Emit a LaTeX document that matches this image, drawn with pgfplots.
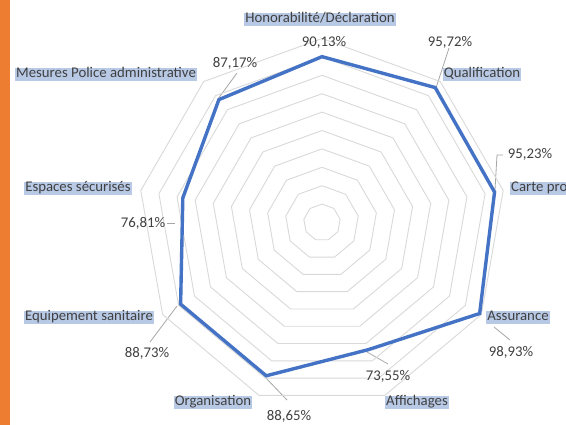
\documentclass[border=0pt]{standalone}
\usepackage{fontspec}
\setmainfont{Carlito}
\usepackage{pgfplots}
\pgfplotsset{compat=1.18}
\usepgfplotslibrary{polar}
\definecolor{xlblue}{HTML}{4472C4}
\definecolor{xlorange}{HTML}{ED7D31}
\definecolor{hl}{HTML}{B8C9E6}
\definecolor{ring}{HTML}{D9D9D9}
\definecolor{txt}{HTML}{404040}
\definecolor{leadgray}{HTML}{A6A6A6}

\begin{document}
\begin{tikzpicture}[
    cat/.style={fill=hl, text=txt, inner xsep=1pt, inner ysep=1.8pt,
        text height=0.72em, text depth=0.22em, font=\fontsize{14.8}{16}\selectfont},
    val/.style={text=txt, inner sep=1pt, font=\fontsize{14.8}{16}\selectfont},
    leader/.style={leadgray, line width=0.8pt},
]
\path[use as bounding box] (0pt,0pt) rectangle (566pt,-425pt);
\fill[white] (0pt,0pt) rectangle (566pt,-425pt);
\fill[xlorange] (0pt,0pt) rectangle (10pt,-425pt);

% leader lines
\draw[leader] (449pt,-48pt) -- (436pt,-88pt);
\draw[leader] (503pt,-155pt) -- (497pt,-155pt) -- (495pt,-190pt);
\draw[leader] (494pt,-327pt) -- (510pt,-340pt);
\draw[leader] (367pt,-352pt) -- (388pt,-364pt);
\draw[leader] (266pt,-378pt) -- (287pt,-400pt);
\draw[leader] (177pt,-306pt) -- (150pt,-342pt);
\draw[leader] (167pt,-223pt) -- (175pt,-223pt);
\draw[leader] (237pt,-73pt) -- (218pt,-99pt);

\begin{polaraxis}[
    at={(322pt,-222.5pt)}, anchor=center,
    scale only axis, width=368pt, height=368pt,
    xmin=0, xmax=360, ymin=0, ymax=100,
    hide axis, clip=false,
]
\pgfplotsinvokeforeach{10,20,...,100}{
    \addplot[ring, line width=0.9pt, line join=round] coordinates
        {(90,#1) (50,#1) (10,#1) (330,#1) (290,#1) (250,#1) (210,#1) (170,#1) (130,#1)} -- cycle;
}
% angle (deg), value (%)
\addplot[xlblue, line width=3.4pt, line join=miter] table {
angle value
90  90.13
50  95.72
10  95.23
330 98.93
290 73.55
250 88.65
210 88.73
170 76.81
130 87.17
} -- cycle;
\end{polaraxis}

% category labels
\node[cat] at (320pt,-20pt) {Honorabilité/Déclaration};
\node[cat] at (482pt,-75pt) {Qualification};
\node[cat, anchor=west] at (510pt,-189pt) {Carte pro};
\node[cat] at (518pt,-318pt) {Assurance};
\node[cat] at (417pt,-403pt) {Affichages};
\node[cat] at (213pt,-403pt) {Organisation};
\node[cat] at (89pt,-318pt) {Equipement sanitaire};
\node[cat] at (78pt,-189pt) {Espaces sécurisés};
\node[cat] at (106pt,-75pt) {Mesures Police administrative};

% value labels
\node[val] at (324pt,-42pt) {90,13\%};
\node[val] at (450pt,-42pt) {95,72\%};
\node[val] at (235pt,-63pt) {87,17\%};
\node[val] at (530pt,-154pt) {95,23\%};
\node[val] at (511pt,-352pt) {98,93\%};
\node[val] at (388pt,-376pt) {73,55\%};
\node[val] at (289pt,-416pt) {88,65\%};
\node[val] at (147pt,-353pt) {88,73\%};
\node[val] at (143pt,-223pt) {76,81\%};
\end{tikzpicture}
\end{document}
